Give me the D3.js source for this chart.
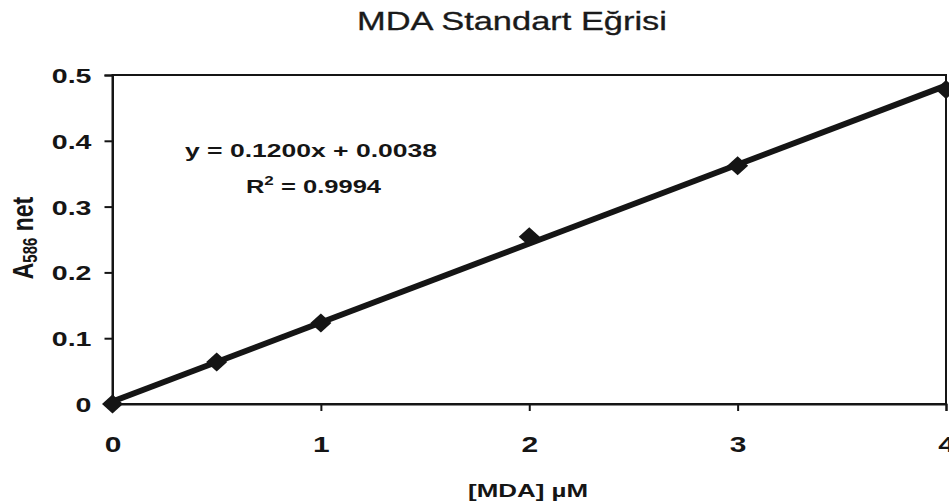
<!DOCTYPE html>
<html>
<head>
<meta charset="utf-8">
<script src="https://cdn.jsdelivr.net/npm/d3@7"></script>
<style>
  html, body { margin: 0; padding: 0; background: #fff; }
  svg { display: block; font-family: "Liberation Sans", Arial, sans-serif; }
</style>
</head>
<body>
<svg id="chart" width="949" height="504"></svg>
<script>
// ---- data ----
const concentrations = [0, 0.5, 1, 2, 3, 4];          // [MDA] µM
const absorbances   = [0, 0.064, 0.123, 0.254, 0.362, 0.478]; // A586 net
const slope = 0.1200, intercept = 0.0038, r2 = 0.9994;
const xTicks = [0, 1, 2, 3, 4];
const yTicks = [0, 0.1, 0.2, 0.3, 0.4, 0.5];
const titleText = "MDA Standart Eğrisi";
const xLabelText = "[MDA] µM";

(function () {
const svg = d3.select("#chart");
const pLeft = 112.5, pRight = 946, pTop = 75, pBottom = 404;
const stretch = 1.36;
const ink = "#151515";

const x = d3.scaleLinear().domain([0, 4]).range([pLeft, pRight]);
const y = d3.scaleLinear().domain([0, 0.5]).range([pBottom, pTop]);

// frame
svg.append("rect")
  .attr("x", pLeft).attr("y", pTop)
  .attr("width", pRight - pLeft).attr("height", pBottom - pTop)
  .attr("fill", "none").attr("stroke", ink).attr("stroke-width", 2);

// y axis
const yAxis = svg.append("g")
  .attr("transform", `translate(${pLeft},0)`)
  .call(d3.axisLeft(y).tickValues(yTicks).tickSize(8)
        .tickFormat(d => d === 0 ? "0" : d3.format(".1f")(d)));
yAxis.select(".domain").attr("stroke", ink).attr("stroke-width", 2);
yAxis.selectAll(".tick line").attr("stroke", ink).attr("stroke-width", 2);
yAxis.selectAll(".tick text")
  .attr("x", 0).attr("dy", null).attr("y", 0)
  .attr("dominant-baseline", "central")
  .attr("transform", `translate(-21,0) scale(${stretch},1)`)
  .attr("font-size", 21).attr("font-weight", "bold")
  .attr("fill", ink).attr("font-family", "Liberation Sans, Arial, sans-serif");

// x axis
const xAxis = svg.append("g")
  .attr("transform", `translate(0,${pBottom})`)
  .call(d3.axisBottom(x).tickValues(xTicks).tickSize(7).tickFormat(d3.format("d")));
xAxis.select(".domain").attr("stroke", ink).attr("stroke-width", 2);
xAxis.selectAll(".tick line").attr("stroke", ink).attr("stroke-width", 2);
xAxis.selectAll(".tick text")
  .attr("y", 48).attr("dy", null)
  .attr("transform", `scale(${stretch},1)`)
  .attr("font-size", 22).attr("font-weight", "bold")
  .attr("fill", ink).attr("font-family", "Liberation Sans, Arial, sans-serif");

// trendline
const line = d3.line().x(d => x(d)).y(d => y(slope * d + intercept));
svg.append("path")
  .datum([0, 4])
  .attr("d", line)
  .attr("fill", "none").attr("stroke", ink).attr("stroke-width", 6)
  .attr("stroke-linecap", "butt");

// markers
const pts = concentrations.map((c, i) => ({c, a: absorbances[i]}));
svg.append("g").selectAll("path")
  .data(pts).join("path")
  .attr("d", d => {
    const cx = x(d.c), cy = y(d.a), hw = 10.5, hh = 9.5;
    return `M${cx},${cy - hh}L${cx + hw},${cy}L${cx},${cy + hh}L${cx - hw},${cy}Z`;
  })
  .attr("fill", ink);

// title
svg.append("text")
  .attr("x", 512).attr("y", 30)
  .attr("text-anchor", "middle")
  .attr("font-size", 25)
  .attr("textLength", 310).attr("lengthAdjust", "spacingAndGlyphs")
  .attr("fill", "#1a1a1a")
  .attr("stroke", "#1a1a1a").attr("stroke-width", 0.3)
  .text(titleText);

// equation
svg.append("text")
  .attr("x", 311).attr("y", 157)
  .attr("text-anchor", "middle")
  .attr("font-size", 18).attr("font-weight", "bold")
  .attr("textLength", 252).attr("lengthAdjust", "spacingAndGlyphs")
  .attr("fill", ink)
  .text(`y = ${slope.toFixed(4)}x + ${intercept.toFixed(4)}`);

const r2t = svg.append("text")
  .attr("x", 313.5).attr("y", 193)
  .attr("text-anchor", "middle")
  .attr("font-size", 18).attr("font-weight", "bold")
  .attr("fill", ink)
  .attr("transform", `translate(313.5,0) scale(1.42,1) translate(-313.5,0)`);
r2t.append("tspan").text("R");
r2t.append("tspan").attr("font-size", 12).attr("dy", -8).text("2");
r2t.append("tspan").attr("dy", 8).text(" = " + r2.toFixed(4));

// x label
svg.append("text")
  .attr("x", 528).attr("y", 497)
  .attr("text-anchor", "middle")
  .attr("font-size", 18).attr("font-weight", "bold")
  .attr("textLength", 120).attr("lengthAdjust", "spacingAndGlyphs")
  .attr("fill", ink)
  .text(xLabelText);

// y label
const yl = svg.append("text")
  .attr("transform", `translate(33,238) scale(1.3,1) rotate(-90)`)
  .attr("text-anchor", "middle")
  .attr("font-size", 23).attr("font-weight", "bold")
  .attr("fill", ink);
yl.append("tspan").text("A");
yl.append("tspan").attr("font-size", 15).attr("dy", 3).text("586");
yl.append("tspan").attr("dy", -3).text(" net");
})();
</script>
</body>
</html>
